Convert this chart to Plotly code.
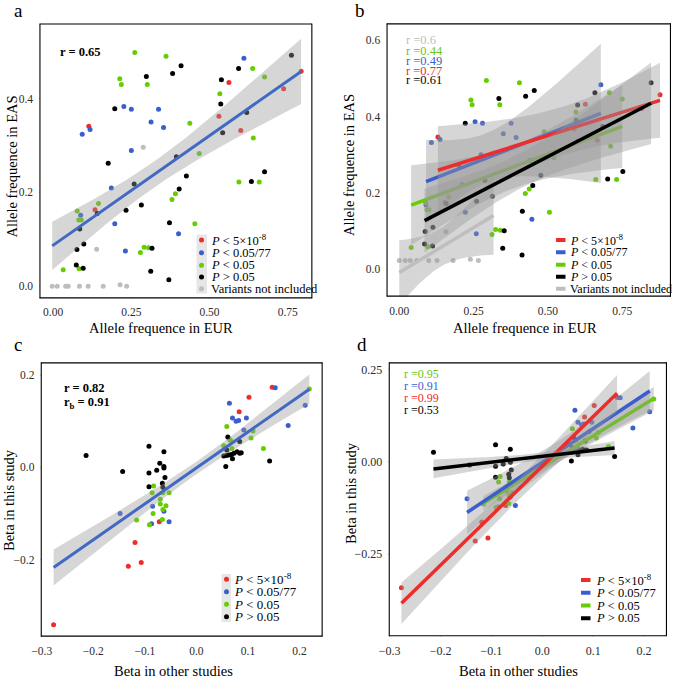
import numpy as np
import plotly.graph_objects as go

# ---------------- data ----------------
# Panel a (allele frequencies, EUR vs EAS)
a_red_x = [0.114, 0.562, 0.793, 0.737, 0.530, 0.600, 0.134]
a_red_y = [0.341, 0.434, 0.458, 0.421, 0.362, 0.332, 0.163]
a_blue_x = [0.093, 0.118, 0.088, 0.226, 0.250, 0.337, 0.313, 0.353, 0.250, 0.186, 0.197, 0.231, 0.401, 0.610]
a_blue_y = [0.324, 0.334, 0.151, 0.383, 0.377, 0.377, 0.350, 0.338, 0.289, 0.209, 0.133, 0.075, 0.112, 0.486]
a_green_x = [0.261, 0.361, 0.213, 0.218, 0.301, 0.437, 0.533, 0.638, 0.676, 0.640, 0.467, 0.391, 0.380,
             0.453, 0.594, 0.659, 0.077, 0.082, 0.090, 0.145, 0.032, 0.083, 0.291, 0.305, 0.279]
a_green_y = [0.498, 0.490, 0.442, 0.430, 0.430, 0.347, 0.410, 0.464, 0.446, 0.316, 0.283, 0.197, 0.185,
             0.133, 0.222, 0.222, 0.160, 0.141, 0.141, 0.176, 0.035, 0.037, 0.083, 0.082, 0.072]
a_black_x = [0.409, 0.382, 0.298, 0.197, 0.176, 0.259, 0.394, 0.426, 0.403, 0.282, 0.233, 0.141, 0.085,
             0.098, 0.076, 0.372, 0.316, 0.312, 0.370, 0.074, 0.096, 0.538, 0.536, 0.593, 0.619, 0.542,
             0.634, 0.676, 0.762]
a_black_y = [0.470, 0.453, 0.447, 0.378, 0.262, 0.218, 0.276, 0.235, 0.207, 0.173, 0.162, 0.155, 0.122,
             0.090, 0.078, 0.135, 0.081, 0.032, 0.0135, 0.045, 0.038, 0.440, 0.388, 0.464, 0.370, 0.327,
             0.223, 0.244, 0.492]
a_gray_x = [0.288, 0.139, -0.003, 0.013, 0.040, 0.048, 0.084, 0.112, 0.160, 0.214, 0.235]
a_gray_y = [0.296, 0.079, 0.0, 0.0, 0.0, 0.0, 0.0, 0.0, 0.0, 0.003, 0.0]

# Panel b
b_red_x = [0.130, 0.154, 0.588, 0.626, 0.666, 0.877, 0.815]
b_red_y = [0.346, 0.175, 0.367, 0.432, 0.338, 0.457, 0.421]
b_blue_x = [0.108, 0.137, 0.090, 0.255, 0.280, 0.376, 0.350, 0.393, 0.275, 0.211, 0.222, 0.259, 0.446, 0.678]
b_blue_y = [0.332, 0.340, 0.168, 0.386, 0.382, 0.382, 0.355, 0.345, 0.300, 0.222, 0.149, 0.093, 0.131, 0.483]
b_green_x = [0.293, 0.404, 0.241, 0.245, 0.338, 0.594, 0.707, 0.750, 0.711, 0.520, 0.437, 0.424, 0.505,
             0.661, 0.731, 0.088, 0.093, 0.100, 0.166, 0.040, 0.096, 0.324, 0.340, 0.312, 0.487]
b_green_y = [0.494, 0.488, 0.443, 0.431, 0.431, 0.412, 0.462, 0.446, 0.322, 0.292, 0.210, 0.198, 0.149,
             0.235, 0.235, 0.175, 0.156, 0.156, 0.189, 0.057, 0.059, 0.104, 0.102, 0.091, 0.360]
b_black_x = [0.335, 0.425, 0.454, 0.222, 0.847, 0.658, 0.600, 0.684, 0.595, 0.476, 0.449, 0.752, 0.701,
             0.414, 0.413, 0.353, 0.348, 0.087, 0.113, 0.085, 0.112, 0.260, 0.313, 0.288, 0.200, 0.440,
             0.158, 0.600]
b_black_y = [0.447, 0.453, 0.468, 0.382, 0.488, 0.462, 0.430, 0.374, 0.390, 0.246, 0.219, 0.256, 0.236,
             0.152, 0.037, 0.101, 0.055, 0.099, 0.110, 0.066, 0.061, 0.178, 0.191, 0.232, 0.272, 0.285,
             0.172, 0.335]
b_gray_x = [0.317, 0.157, 0.000, 0.020, 0.037, 0.059, 0.099, 0.127, 0.181, 0.239, 0.266]
b_gray_y = [0.305, 0.098, 0.023, 0.023, 0.023, 0.023, 0.023, 0.023, 0.023, 0.026, 0.023]

# Panels c and d (beta in other studies vs this study)
c_red_x = [-0.277, -0.132, -0.107, -0.119, -0.072, 0.102, 0.147, 0.083]
c_red_y = [-0.341, -0.214, -0.206, -0.163, -0.118, 0.152, 0.174, 0.121]
c_blue_x = [-0.148, -0.085, -0.087, -0.063, -0.053, 0.064, 0.070, 0.077, 0.082, 0.097, 0.092, 0.153, 0.178, 0.211]
c_blue_y = [-0.100, -0.084, -0.122, -0.095, -0.118, 0.139, 0.107, 0.100, 0.102, 0.107, 0.081, 0.173, 0.091, 0.135]
c_green_x = [0.219, 0.059, 0.065, 0.066, 0.053, 0.069, 0.106, 0.110, 0.130, -0.083, -0.086, -0.070,
             -0.070, -0.065, -0.053, -0.065, -0.059, -0.084, -0.116, -0.091, -0.066]
c_green_y = [0.170, 0.089, 0.060, 0.059, 0.047, 0.041, 0.064, 0.079, 0.041, -0.040, -0.055, -0.069,
             -0.079, -0.055, -0.055, -0.091, -0.083, -0.100, -0.114, -0.124, -0.113]
c_black_x = [-0.214, -0.143, -0.092, -0.092, -0.092, -0.077, -0.071, -0.063, -0.063, -0.063, -0.061,
             -0.066, -0.065, 0.061, 0.059, 0.053, 0.058, 0.063, 0.068, 0.073, 0.079, 0.084, 0.087,
             0.070, 0.057, 0.142, 0.084]
c_black_y = [0.026, -0.009, 0.046, -0.012, -0.042, -0.006, 0.009, 0.034, 0.002, -0.001, -0.022,
             -0.034, -0.043, 0.066, 0.038, 0.025, 0.026, 0.027, 0.028, 0.031, 0.034, 0.031, 0.032,
             0.019, 0.002, 0.014, 0.056]

# tick values / labels
M = "\u2212"
freq_ticks = [0, 0.25, 0.5, 0.75]
freq_labels = ["0.00", "0.25", "0.50", "0.75"]
a_yticks = [0, 0.2, 0.4]
a_ylabels = ["0.0", "0.2", "0.4"]
b_yticks = [0, 0.2, 0.4, 0.6]
b_ylabels = ["0.0", "0.2", "0.4", "0.6"]
beta_ticks = [-0.3, -0.2, -0.1, 0, 0.1, 0.2]
beta_labels = [M + "0.3", M + "0.2", M + "0.1", "0.0", "0.1", "0.2"]
c_yticks = [-0.2, 0, 0.2]
c_ylabels = [M + "0.2", "0.0", "0.2"]
d_yticks = [-0.25, 0, 0.25]
d_ylabels = [M + "0.25", "0.00", "0.25"]

legend_labels = ["<i>P</i> < 5×10<sup>-8</sup>", "<i>P</i> < 0.05/77", "<i>P</i> < 0.05",
                 "<i>P</i> > 0.05", "Variants not included"]
r_text_b = ["r =0.6", "r =0.44", "r =0.49", "r =0.77", "r =0.61"]
r_text_d = ["r =0.95", "r =0.91", "r =0.99", "r =0.53"]

# ---------------- style ----------------
RED, BLUE, GREEN, BLACK, GRAY = "#EE2C2C", "#3A5FCD", "#66CD00", "#000000", "#BEBEBE"
FIT_BLUE = "#4169C4"
BAND = "rgba(153,153,153,0.4)"
FONT = "Liberation Serif"
W, H = 674, 681

# panel boxes in pixels: (left, right, top, bottom) and axis ranges
BOX = {"": (39.4, 312.4, 23.4, 298.4), "2": (386.5, 671, 23.3, 296.7),
       "3": (40.7, 322.7, 362.3, 636.7), "4": (388.7, 667, 362.3, 636.3)}
XR = {"": [-0.044, 0.829], "2": [-0.043, 0.914], "3": [-0.302, 0.245], "4": [-0.302, 0.245]}
YR = {"": [-0.026, 0.56], "2": [-0.072, 0.644], "3": [-0.367, 0.228], "4": [-0.472, 0.269]}


def fx(px):
    return px / W


def fy(py):
    return 1 - py / H


def to_data(ax, px, py):
    l, r, t, b = BOX[ax]
    x0, x1 = XR[ax]
    y0, y1 = YR[ax]
    return x0 + (px - l) / (r - l) * (x1 - x0), y0 + (b - py) / (b - t) * (y1 - y0)


def tq(df):
    z = 1.959964
    return (z + (z**3 + z) / (4 * df) + (5 * z**5 + 16 * z**3 + 3 * z) / (96 * df**2)
            + (3 * z**7 + 19 * z**5 + 17 * z**3 - 15 * z) / (384 * df**3))


def ols_band(x, y, n_grid=80):
    x = np.asarray(x, float)
    y = np.asarray(y, float)
    n = len(x)
    xm = x.mean()
    sxx = ((x - xm) ** 2).sum()
    b = ((x - xm) * (y - y.mean())).sum() / sxx
    a = y.mean() - b * xm
    s = np.sqrt(((y - (a + b * x)) ** 2).sum() / (n - 2))
    gx = np.linspace(x.min(), x.max(), n_grid)
    fit = a + b * gx
    se = s * np.sqrt(1 / n + (gx - xm) ** 2 / sxx)
    t = tq(n - 2)
    return gx, fit, fit - t * se, fit + t * se


fig = go.Figure()


def points(x, y, color, ax):
    fig.add_trace(go.Scatter(x=x, y=y, mode="markers", xaxis="x" + ax, yaxis="y" + ax,
                             marker=dict(size=5, color=color, line=dict(width=0)),
                             hoverinfo="skip"))


def smooth(x, y, color, ax, width=3):
    gx, fit, lo, hi = ols_band(x, y)
    fig.add_trace(go.Scatter(x=np.concatenate([gx, gx[::-1]]), y=np.concatenate([lo, hi[::-1]]),
                             fill="toself", fillcolor=BAND, line=dict(width=0), mode="lines",
                             xaxis="x" + ax, yaxis="y" + ax, hoverinfo="skip"))
    fig.add_trace(go.Scatter(x=gx, y=fit, mode="lines", line=dict(color=color, width=width),
                             xaxis="x" + ax, yaxis="y" + ax, hoverinfo="skip"))


# ---- panel a ----
for (x, y, c) in [(a_gray_x, a_gray_y, GRAY), (a_red_x, a_red_y, RED), (a_blue_x, a_blue_y, BLUE),
                  (a_green_x, a_green_y, GREEN), (a_black_x, a_black_y, BLACK)]:
    points(x, y, c, "")
smooth(a_red_x + a_blue_x + a_green_x + a_black_x + a_gray_x,
       a_red_y + a_blue_y + a_green_y + a_black_y + a_gray_y, FIT_BLUE, "")

# ---- panel b ----
for (x, y, c) in [(b_gray_x, b_gray_y, GRAY), (b_red_x, b_red_y, RED), (b_blue_x, b_blue_y, BLUE),
                  (b_green_x, b_green_y, GREEN), (b_black_x, b_black_y, BLACK)]:
    points(x, y, c, "2")
for (x, y, c) in [(b_gray_x, b_gray_y, GRAY), (b_green_x, b_green_y, GREEN), (b_blue_x, b_blue_y, BLUE),
                  (b_red_x, b_red_y, RED), (b_black_x, b_black_y, BLACK)]:
    smooth(x, y, c, "2", width=3.5)

# ---- panel c ----
for (x, y, c) in [(c_red_x, c_red_y, RED), (c_blue_x, c_blue_y, BLUE),
                  (c_green_x, c_green_y, GREEN), (c_black_x, c_black_y, BLACK)]:
    points(x, y, c, "3")
smooth(c_red_x + c_blue_x + c_green_x + c_black_x, c_red_y + c_blue_y + c_green_y + c_black_y, FIT_BLUE, "3")

# ---- panel d ----
for (x, y, c) in [(c_red_x, c_red_y, RED), (c_blue_x, c_blue_y, BLUE),
                  (c_green_x, c_green_y, GREEN), (c_black_x, c_black_y, BLACK)]:
    points(x, y, c, "4")
for (x, y, c) in [(c_green_x, c_green_y, GREEN), (c_blue_x, c_blue_y, BLUE),
                  (c_red_x, c_red_y, RED), (c_black_x, c_black_y, BLACK)]:
    smooth(x, y, c, "4", width=3.5)


# ---- frames, tick marks and legend keys as scatter traces (not clipped) ----
def seg_trace(ax, segs, color, width):
    xs, ys = [], []
    for (p0, p1) in segs:
        d0 = to_data(ax, *p0)
        d1 = to_data(ax, *p1)
        xs += [d0[0], d1[0], None]
        ys += [d0[1], d1[1], None]
    fig.add_trace(go.Scatter(x=xs, y=ys, mode="lines", xaxis="x" + ax, yaxis="y" + ax,
                             line=dict(color=color, width=width), cliponaxis=False, hoverinfo="skip"))


def fill_rect(ax, x0, x1, y0, y1, color):
    pts = [to_data(ax, x0, y0), to_data(ax, x1, y0), to_data(ax, x1, y1), to_data(ax, x0, y1)]
    fig.add_trace(go.Scatter(x=[p[0] for p in pts], y=[p[1] for p in pts], fill="toself",
                             fillcolor=color, mode="lines", line=dict(width=0), xaxis="x" + ax,
                             yaxis="y" + ax, cliponaxis=False, hoverinfo="skip"))


TICKS = {"": (freq_ticks, a_yticks), "2": (freq_ticks, b_yticks),
         "3": (beta_ticks, c_yticks), "4": (beta_ticks, d_yticks)}
for ax, (l, r, t, b) in BOX.items():
    seg_trace(ax, [((l, t), (r, t)), ((r, t), (r, b)), ((r, b), (l, b)), ((l, b), (l, t))], "black", 2.2)
    x0, x1 = XR[ax]
    y0, y1 = YR[ax]
    xt, yt = TICKS[ax]
    tsegs = []
    for v in xt:
        px = l + (v - x0) / (x1 - x0) * (r - l)
        tsegs.append(((px, b), (px, b + 4)))
    for v in yt:
        py = b - (v - y0) / (y1 - y0) * (b - t)
        tsegs.append(((l, py), (l - 4, py)))
    seg_trace(ax, tsegs, "#333333", 1.5)

# legend key backgrounds (panels a, c)
fill_rect("", 196.5, 207, 234.5, 293.5, "#E6E6E6")
fill_rect("3", 221.5, 231, 574, 622, "#E6E6E6")


# ---------------- axes ----------------
def axis(ax, tickvals, ticktext, horizontal, size=11.5):
    l, r, t, b = BOX[ax]
    dom = [fx(l), fx(r)] if horizontal else [fy(b), fy(t)]
    return dict(domain=dom, range=XR[ax] if horizontal else YR[ax], tickvals=tickvals, ticktext=ticktext,
                anchor=("y" if horizontal else "x") + ax, automargin=False, showline=False,
                ticks="outside", ticklen=3, tickwidth=1, tickcolor="rgba(0,0,0,0)",
                showgrid=False, zeroline=False,
                tickfont=dict(family=FONT, size=size, color="#2b2b2b"))


layout = dict(
    template="none",
    width=W, height=H, margin=dict(l=0, r=0, t=0, b=0, pad=0), showlegend=False, autosize=False,
    paper_bgcolor="white", plot_bgcolor="rgba(0,0,0,0)",
    xaxis=axis("", freq_ticks, freq_labels, True),
    yaxis=axis("", a_yticks, a_ylabels, False),
    xaxis2=axis("2", freq_ticks, freq_labels, True),
    yaxis2=axis("2", b_yticks, b_ylabels, False),
    xaxis3=axis("3", beta_ticks, beta_labels, True),
    yaxis3=axis("3", c_yticks, c_ylabels, False),
    xaxis4=axis("4", beta_ticks, beta_labels, True, 12),
    yaxis4=axis("4", d_yticks, d_ylabels, False, 12),
)
fig.update_layout(**layout)

ann = []
shapes = []


def text(px, py, s, size, color="black", xanchor="center", angle=0, bold=False):
    if bold:
        s = "<b>" + s + "</b>"
    ann.append(dict(x=fx(px), y=fy(py), xref="paper", yref="paper", text=s, showarrow=False,
                    xanchor=xanchor, yanchor="middle", textangle=angle,
                    font=dict(family=FONT, size=size, color=color)))


# panel letters
text(18, 10, "a", 19)
text(360, 10, "b", 19)
text(18, 344, "c", 19)
text(362, 344, "d", 19)

# axis titles
text(161, 328, "Allele frequence in EUR", 14.5)
text(525, 328, "Allele frequence in EUR", 14.5)
text(174, 671, "Beta in other studies", 14.5)
text(518, 671, "Beta in other studies", 14.5)
text(11.5, 167, "Allele frequence in EAS", 14.5, angle=-90)
text(349, 165, "Allele frequence in EAS", 14.5, angle=-90)
text(9, 500, "Beta in this study", 14.5, angle=-90)
text(351, 493, "Beta in this study", 14.5, angle=-90)

# correlation labels
text(58, 52, "r = 0.65", 12.5, xanchor="left", bold=True)
text(61.5, 387.5, "r = 0.82", 12.5, xanchor="left", bold=True)
text(61.5, 403, "r<sub>b</sub> = 0.91", 12.5, xanchor="left", bold=True)
for s, c, py in zip(r_text_b, [GRAY, "#6CC417", BLUE, RED, BLACK], [40, 50.5, 61, 70.5, 80]):
    text(403.5, py, s, 12.5, color=c, xanchor="left")
for s, c, py in zip(r_text_d, ["#6CC417", BLUE, RED, BLACK], [374.3, 386, 398.3, 410]):
    text(402, py, s, 12, color=c, xanchor="left")


# legends
def dot_legend(kx, ys, colors, labels, tx, size):
    for y, c, lab in zip(ys, colors, labels):
        shapes.append(dict(type="circle", xref="paper", yref="paper", x0=fx(kx - 2.5), x1=fx(kx + 2.5),
                           y0=fy(y + 2.5), y1=fy(y - 2.5), fillcolor=c, line=dict(width=0), layer="above"))
        text(tx, y, lab, size, xanchor="left")


def line_legend(ax, kx0, kx1, ys, colors, labels, tx, size):
    for y, c, lab in zip(ys, colors, labels):
        seg_trace(ax, [((kx0, y), (kx1, y))], c, 4)
        text(tx, y, lab, size, xanchor="left")


five = [RED, BLUE, GREEN, BLACK, GRAY]
dot_legend(201.5, [240, 252.7, 265.2, 277, 288.7], five, legend_labels, 209, 12.5)
line_legend("2", 556, 565.5, [240, 252.3, 264.8, 276.7, 288.7], five, legend_labels, 568, 12)
dot_legend(226.5, [579.3, 591.7, 604.3, 616.7], five[:4], legend_labels[:4], 231.5, 13)
line_legend("4", 581, 590.5, [580, 592.7, 605.5, 618.3], five[:4], legend_labels[:4], 593.5, 12.5)

fig.update_layout(annotations=ann, shapes=shapes)
fig.write_html("out.html", config={"responsive": False, "displayModeBar": False},
               post_script="document.body.style.margin='0';document.body.style.overflow='hidden';")
